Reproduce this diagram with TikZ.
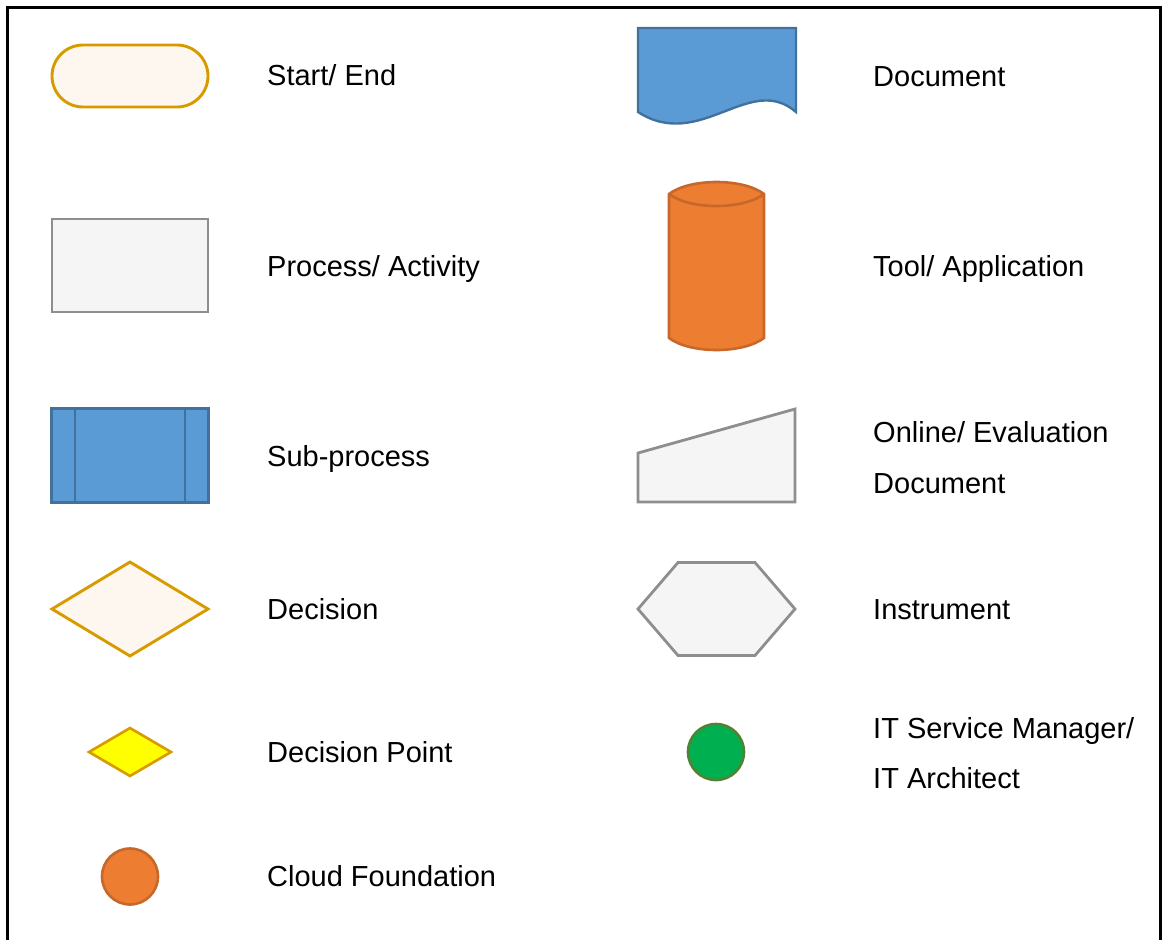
\documentclass[tikz,border=0pt]{standalone}
\usepackage{fontspec}
\setmainfont{Liberation Sans}
\usetikzlibrary{shapes.geometric}

\definecolor{goldline}{HTML}{D79B00}
\definecolor{creamfill}{HTML}{FEF7F0}
\definecolor{bluefill}{HTML}{5B9BD5}
\definecolor{blueline}{HTML}{41719C}
\definecolor{orangefill}{HTML}{ED7D31}
\definecolor{orangeline}{HTML}{C7672A}
\definecolor{greyfill}{HTML}{F5F5F5}
\definecolor{greyline}{HTML}{8E8E8E}
\definecolor{greenfill}{HTML}{00B050}
\definecolor{greenline}{HTML}{548235}
\definecolor{yellowfill}{HTML}{FFFF00}

\tikzset{
  gold/.style={draw=goldline, fill=creamfill, line width=2.9pt},
  greybox/.style={draw=greyline, fill=greyfill, line width=2.8pt},
  bluebox/.style={draw=blueline, fill=bluefill, line width=2.4pt},
  orangebox/.style={draw=orangeline, fill=orangefill, line width=2.6pt},
  plainshape/.style={inner sep=0pt, outer sep=0pt},
  legendtext/.style={anchor=base west, inner sep=0pt, font=\fontsize{29}{34}\selectfont},
}

\begin{document}
\begin{tikzpicture}[x=1pt, y=-1pt, line join=miter]
\useasboundingbox (0,0) rectangle (1162,940);

% frame, open at the bottom
\draw[line width=3pt] (7,940) -- (7,7) -- (1160,7) -- (1160,940);

% ---- left column ----
\node[plainshape, gold, rectangle, rounded corners=31pt, minimum width=156pt, minimum height=62pt] (startend) at (130,76) {};
\node[legendtext] (tstart) at (267,85.5) {Start/ End};

\node[plainshape, greybox, rectangle, minimum width=156pt, minimum height=93pt] (proc) at (130,265.5) {};
\node[legendtext] (tproc) at (267,276) {Process/ Activity};

\node[plainshape, bluebox, rectangle, minimum width=157pt, minimum height=94pt] (sub) at (130,455.5) {};
\draw[blueline, line width=2.4pt] ([xshift=23.5pt]sub.north west) -- ([xshift=23.5pt]sub.south west);
\draw[blueline, line width=2.4pt] ([xshift=-23.5pt]sub.north east) -- ([xshift=-23.5pt]sub.south east);
\node[legendtext] (tsub) at (267,466) {Sub-process};

\node[plainshape, gold, diamond, minimum width=156pt, minimum height=94pt] (dec) at (130,609) {};
\node[legendtext] (tdec) at (267,619) {Decision};

\node[plainshape, draw=goldline, fill=yellowfill, line width=2.6pt, diamond, minimum width=82pt, minimum height=48pt] (dpt) at (130,752) {};
\node[legendtext] (tdpt) at (267,762) {Decision Point};

\node[plainshape, orangebox, circle, minimum size=56pt] (cloud) at (130,876.5) {};
\node[legendtext] (tcloud) at (267,886) {Cloud Foundation};

% ---- right column ----
% document with wavy lower edge
\draw[bluebox] (638,28) -- (796,28) -- (796,112)
  .. controls (750,72) and (700,152) .. (638,112) -- cycle;
\node[legendtext] (tdoc) at (873,86) {Document};

% cylinder
\draw[orangebox] (669,194) -- (669,338) .. controls (690,354) and (743,354) .. (764,338)
  -- (764,194) .. controls (743,178) and (690,178) .. (669,194) -- cycle;
\draw[orangeline, line width=2.6pt] (669,194) .. controls (690,210) and (743,210) .. (764,194);
\node[legendtext] (ttool) at (873,276) {Tool/ Application};

% manual input
\draw[greybox] (638,453) -- (795,409) -- (795,502) -- (638,502) -- cycle;
\node[legendtext] (tonline1) at (873,442) {Online/ Evaluation};
\node[legendtext] (tonline2) at (873,493) {Document};

% hexagon
\draw[greybox] (638,609) -- (678,562.5) -- (755,562.5) -- (795,609) -- (755,655.5) -- (678,655.5) -- cycle;
\node[legendtext] (tinstr) at (873,619) {Instrument};

\node[plainshape, draw=greenline, fill=greenfill, line width=2.6pt, circle, minimum size=56pt] (itsm) at (716,752) {};
\node[legendtext] (titsm1) at (873,738) {IT Service Manager/};
\node[legendtext] (titsm2) at (873,788) {IT Architect};
\end{tikzpicture}
\end{document}
